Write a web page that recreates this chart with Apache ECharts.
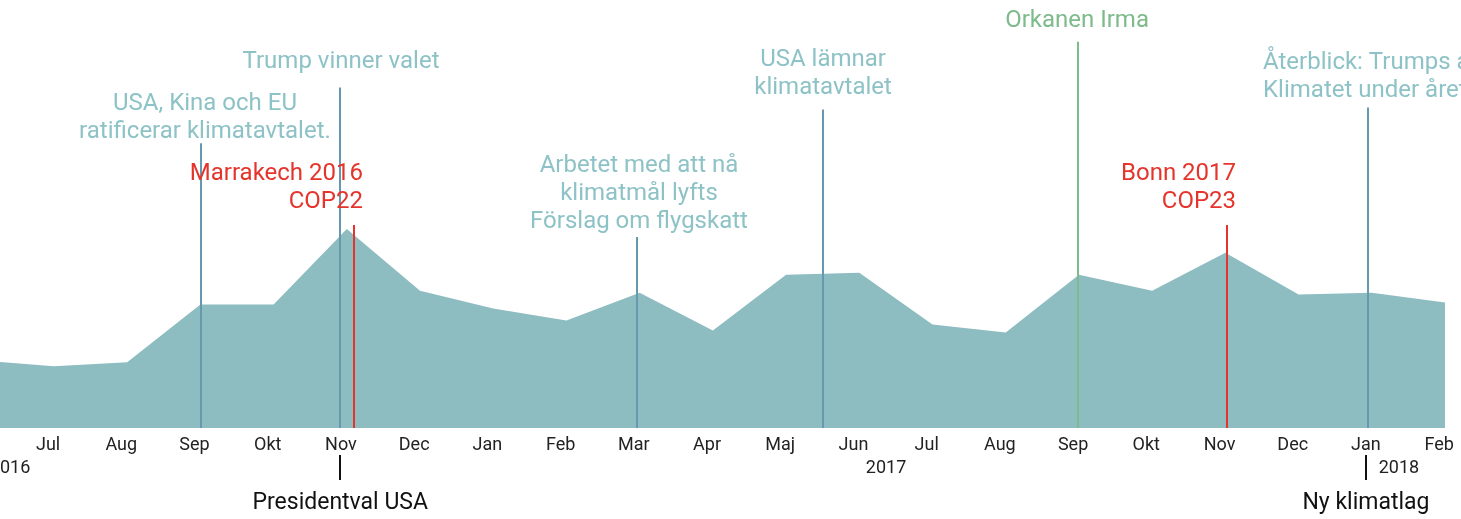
<!DOCTYPE html>
<html>
<head>
<meta charset="utf-8">
<script src="https://cdn.jsdelivr.net/npm/echarts@6/dist/echarts.min.js"></script>
<style>
	html, body { margin: 0; padding: 0; background: #fff; }
	#chart { width: 1461px; height: 519px; }
</style>
</head>
<body>
<div id="chart"></div>
<script>
	// månad 0 = juni 2016, värdena läses av en gång per månad
	var months = ['Jun', 'Jul', 'Aug', 'Sep', 'Okt', 'Nov', 'Dec', 'Jan', 'Feb', 'Mar', 'Apr', 'Maj',
		'Jun', 'Jul', 'Aug', 'Sep', 'Okt', 'Nov', 'Dec', 'Jan', 'Feb'];
	var interest = [34, 31, 33, 62, 62, 100, 69, 60, 54, 68, 49, 77, 78, 52, 48, 77, 69, 88, 67, 68, 63];
	var sampleOffset = 0.08; // mätpunkten ligger några dagar in i månaden

	var years = ['2016', '2017', '2018'];
	var yearPos = [0.48, 12.445, 19.45];

	// händelser: position i månader, linjens höjd, text
	var eventPos = [3.089, 4.987, 5.178, 9.044, 11.585, 15.068, 17.103, 19.029];
	var eventTop = [143, 171, 102, 96, 160, 194, 102, 161];
	var eventKind = ['politik', 'politik', 'cop', 'politik', 'politik', 'väder', 'cop', 'politik'];
	var eventText = [
		'USA, Kina och EU\nratificerar klimatavtalet.',
		'Trump vinner valet',
		'Marrakech 2016\nCOP22',
		'Arbetet med att nå\nklimatmål lyfts\nFörslag om flygskatt',
		'USA lämnar\nklimatavtalet',
		'Orkanen Irma',
		'Bonn 2017\nCOP23',
		'Återblick: Trumps år\nKlimatet under året'
	];
	var bottomEvents = ['Presidentval USA', 'Ny klimatlag'];
	var bottomPos = [4.99, 19.0];

	// placering av etiketterna (x i månader, y i värdeenheter)
	var labelAt = [
		[3.143, 155.5, 'center'], [5.001, 183.9, 'center'], [5.301, 120.8, 'right'], [9.071, 117.4, 'center'],
		[11.585, 177.8, 'center'], [15.054, 204.2, 'center'], [17.226, 120.8, 'right'], [17.595, 176.1, 'left']
	];

	var lineColor = { politik: '#6698b0', cop: '#e5342b', väder: '#7dbb8a' };
	var textColor = { politik: '#8dc2c6', cop: '#e5342b', väder: '#7dbb8a' };

	var xMin = 0.343, xMax = 20 + sampleOffset;
	var font = 'Roboto, "Noto Sans", sans-serif';

	var seriesData = interest.map(function(v, i) { return [i + sampleOffset, v]; });
	var monthValues = [];
	for (var i = 1; i < months.length; i++) monthValues.push(i);

	var markLines = eventPos.map(function(x, i) {
		return [
			{ coord: [x, 0], lineStyle: { color: lineColor[eventKind[i]], width: 2, type: 'solid' } },
			{ coord: [x, eventTop[i]] }
		];
	});
	var markPoints = eventPos.map(function(x, i) {
		return {
			coord: [labelAt[i][0], labelAt[i][1]],
			symbolSize: 0,
			label: {
				show: true,
				position: 'inside',
				formatter: eventText[i],
				align: labelAt[i][2],
				verticalAlign: 'middle',
				color: textColor[eventKind[i]],
				fontSize: 24,
				lineHeight: 28,
				fontFamily: font
			}
		};
	});

	function pick(values, texts) {
		return function(v, idx) {
			for (var k = 0; k < values.length; k++) {
				if (Math.abs(values[k] - v) < 1e-6) return texts[k];
			}
			return texts[idx] || '';
		};
	}

	var chart = echarts.init(document.getElementById('chart'));
	chart.setOption({
		animation: false,
		grid: { left: 0, right: 16, top: 0, height: 428, containLabel: false, outerBoundsMode: 'none' },
		xAxis: [{
			type: 'value', min: xMin, max: xMax,
			axisLine: { show: false }, axisTick: { show: false }, splitLine: { show: false },
			axisLabel: {
				customValues: monthValues,
				formatter: function(v) { return months[Math.round(v)]; },
				color: '#222', fontSize: 18, margin: 8, fontFamily: font
			}
		}, {
			type: 'value', min: xMin, max: xMax, position: 'bottom', offset: 23,
			axisLine: { show: false }, axisTick: { show: false }, splitLine: { show: false },
			axisLabel: {
				customValues: yearPos,
				formatter: pick(yearPos, years),
				color: '#222', fontSize: 18, margin: 8, fontFamily: font
			}
		}, {
			type: 'value', min: xMin, max: xMax, position: 'bottom', offset: 27,
			axisLine: { show: false }, splitLine: { show: false },
			axisTick: {
				show: true, customValues: bottomPos, length: 25, inside: false,
				lineStyle: { color: '#111', width: 2 }
			},
			axisLabel: {
				customValues: bottomPos,
				formatter: pick(bottomPos, bottomEvents),
				color: '#111', fontSize: 23, margin: 37, fontFamily: font
			}
		}],
		yAxis: {
			type: 'value', min: 0, max: 215, show: false
		},
		series: [{
			type: 'line',
			data: seriesData,
			showSymbol: false,
			silent: true,
			lineStyle: { width: 0 },
			areaStyle: { color: '#8ebdc1', opacity: 1 },
			markLine: {
				silent: true,
				symbol: ['none', 'none'],
				label: { show: false },
				data: markLines
			},
			markPoint: {
				silent: true,
				data: markPoints
			}
		}]
	});
</script>
</body>
</html>
